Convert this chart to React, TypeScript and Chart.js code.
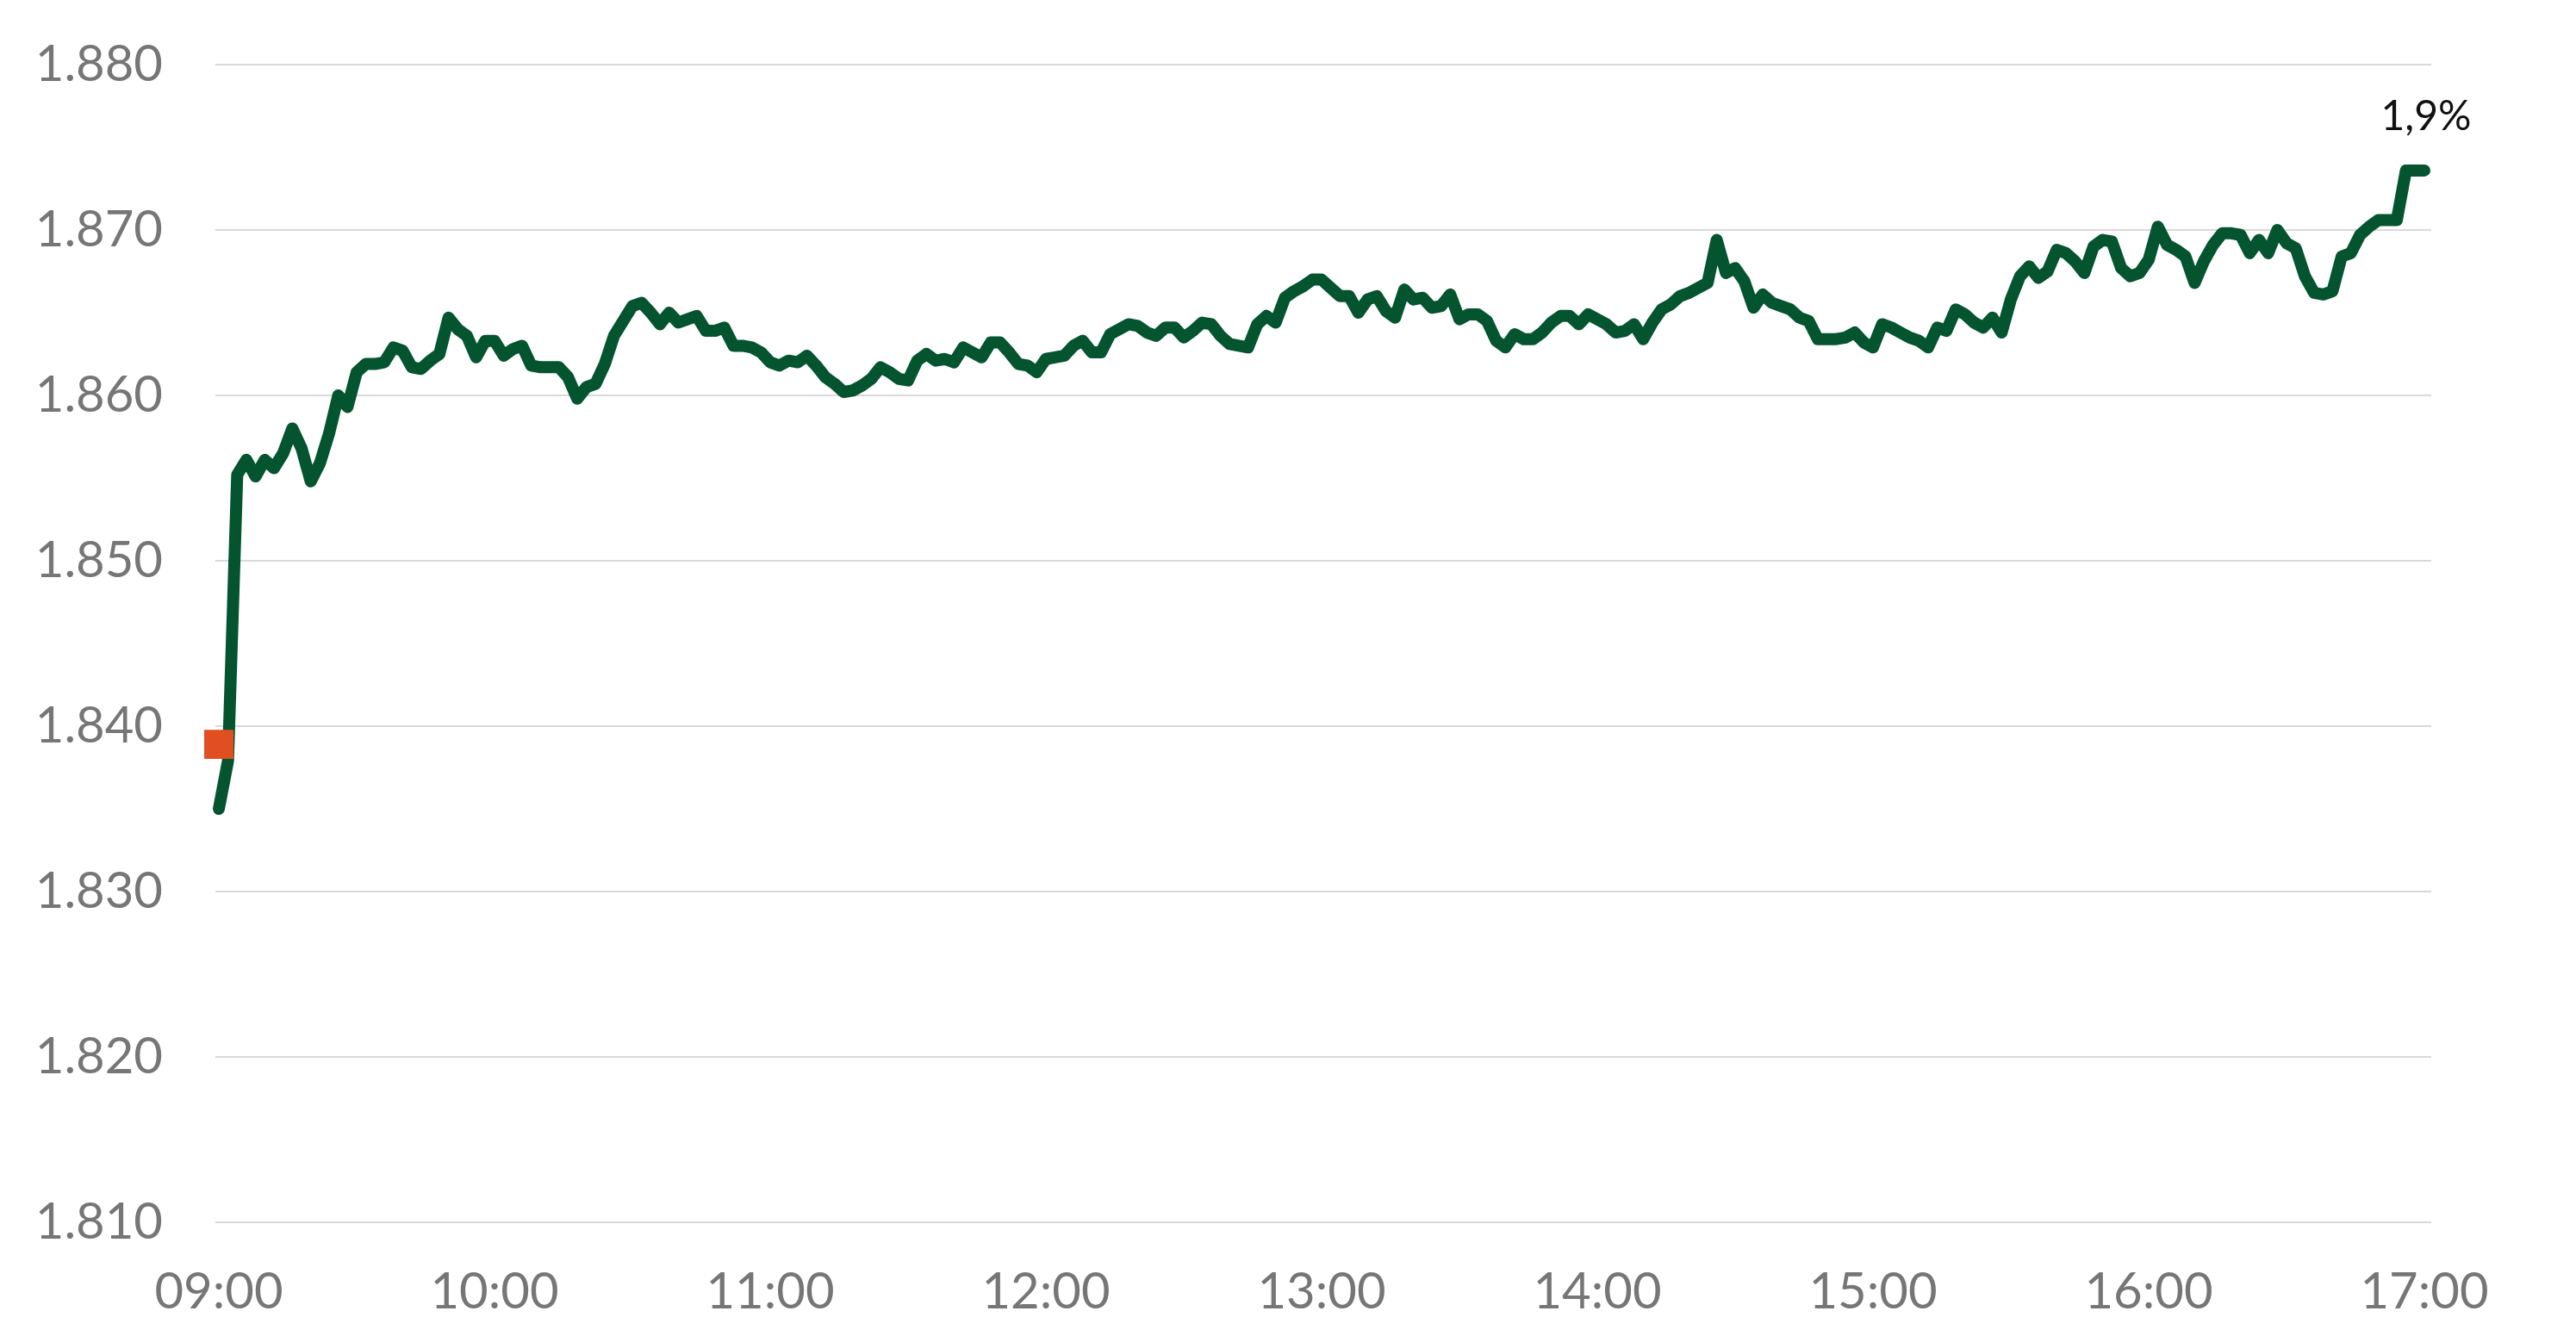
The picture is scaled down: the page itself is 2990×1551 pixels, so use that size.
import React, { useEffect, useRef } from "react";
import { Chart, registerables } from "chart.js";

Chart.register(...registerables);

// x axis: one label per hour, data every 2 minutes from 09:00
const hourLabels = ["09:00", "10:00", "11:00", "12:00", "13:00", "14:00", "15:00", "16:00", "17:00"];
const yTicks = [1810, 1820, 1830, 1840, 1850, 1860, 1870, 1880];
const stepMinutes = 2;

// previous close (orange marker)
const prevClose = 1838.9;

// intraday index level, one value per 2 minutes
const prices = [
    1835.0, 1837.9, 1855.2, 1856.1, 1855.1, 1856.1, 1855.6, 1856.5, 1858.0, 1856.8,
    1854.8, 1855.9, 1857.7, 1860.0, 1859.3, 1861.4, 1861.9, 1861.9, 1862.0, 1862.9,
    1862.7, 1861.7, 1861.6, 1862.1, 1862.5, 1864.7, 1864.0, 1863.6, 1862.3, 1863.3,
    1863.3, 1862.4, 1862.8, 1863.0, 1861.8, 1861.7, 1861.7, 1861.7, 1861.1, 1859.8,
    1860.5, 1860.7, 1861.9, 1863.6, 1864.5, 1865.4, 1865.6, 1865.0, 1864.3, 1865.0,
    1864.4, 1864.6, 1864.8, 1863.9, 1863.9, 1864.1, 1863.0, 1863.0, 1862.9, 1862.6,
    1862.0, 1861.8, 1862.1, 1862.0, 1862.4, 1861.8, 1861.1, 1860.7, 1860.2, 1860.3,
    1860.6, 1861.0, 1861.7, 1861.4, 1861.0, 1860.9, 1862.1, 1862.5, 1862.1, 1862.2,
    1862.0, 1862.9, 1862.6, 1862.3, 1863.2, 1863.2, 1862.6, 1861.9, 1861.8, 1861.4,
    1862.2, 1862.3, 1862.4, 1863.0, 1863.3, 1862.6, 1862.6, 1863.7, 1864.0, 1864.3,
    1864.2, 1863.8, 1863.6, 1864.1, 1864.1, 1863.5, 1863.9, 1864.4, 1864.3, 1863.6,
    1863.1, 1863.0, 1862.9, 1864.3, 1864.8, 1864.4, 1865.9, 1866.3, 1866.6, 1867.0,
    1867.0, 1866.5, 1866.0, 1866.0, 1865.0, 1865.8, 1866.0, 1865.1, 1864.7, 1866.4,
    1865.8, 1865.9, 1865.3, 1865.4, 1866.1, 1864.6, 1864.9, 1864.9, 1864.5, 1863.3,
    1862.9, 1863.7, 1863.4, 1863.4, 1863.8, 1864.4, 1864.8, 1864.8, 1864.3, 1864.9,
    1864.6, 1864.3, 1863.8, 1863.9, 1864.3, 1863.4, 1864.4, 1865.2, 1865.5, 1866.0,
    1866.2, 1866.5, 1866.8, 1869.4, 1867.4, 1867.7, 1866.9, 1865.3, 1866.1, 1865.6,
    1865.4, 1865.2, 1864.7, 1864.5, 1863.4, 1863.4, 1863.4, 1863.5, 1863.8, 1863.2,
    1862.9, 1864.3, 1864.1, 1863.8, 1863.5, 1863.3, 1862.9, 1864.1, 1863.9, 1865.2,
    1864.9, 1864.4, 1864.1, 1864.7, 1863.8, 1865.8, 1867.2, 1867.8, 1867.1, 1867.5,
    1868.8, 1868.6, 1868.1, 1867.4, 1869.0, 1869.4, 1869.3, 1867.7, 1867.2, 1867.4,
    1868.2, 1870.2, 1869.1, 1868.8, 1868.4, 1866.8, 1868.1, 1869.1, 1869.8, 1869.8,
    1869.7, 1868.6, 1869.4, 1868.6, 1870.0, 1869.2, 1868.9, 1867.2, 1866.2, 1866.1,
    1866.3, 1868.4, 1868.6, 1869.7, 1870.2, 1870.6, 1870.6, 1870.6, 1873.6, 1873.6,
    1873.6,
];

const FONT = 'Lato, "Noto Sans", sans-serif';
const GREEN = "#03542F";
const ORANGE = "#E04E22";
const GREY = "#767676";

// "1880" -> "1.880"
const fmtLevel = (v: number) => {
    const n = Math.round(v);
    return `${Math.floor(n / 1000)}.${String(n % 1000).padStart(3, "0")}`;
};

const changeLabel = () => {
    const last = prices[prices.length - 1];
    const pct = (last / prevClose - 1) * 100;
    return `${pct.toFixed(1).replace(".", ",")}%`;
};

// writes the day's change above the last point
const endLabelPlugin = {
    id: "endLabel",
    afterDatasetsDraw(chart: any) {
        const meta = chart.getDatasetMeta(1);
        const pt = meta.data[meta.data.length - 1];
        if (!pt) return;
        const ctx = chart.ctx;
        ctx.save();
        ctx.font = `48px ${FONT}`;
        ctx.fillStyle = "#111111";
        ctx.textAlign = "center";
        ctx.textBaseline = "alphabetic";
        ctx.fillText(changeLabel(), pt.x + 2, pt.y - 47);
        ctx.restore();
    },
};

export default function App() {
    const ref = useRef<HTMLCanvasElement | null>(null);

    useEffect(() => {
        if (!ref.current) return;

        const chart = new Chart(ref.current, {
            type: "line",
            data: {
                datasets: [
                    {
                        label: "Previous close",
                        data: [{ x: 0, y: prevClose }],
                        showLine: false,
                        pointStyle: "rect",
                        pointRadius: 24,
                        pointBackgroundColor: ORANGE,
                        pointBorderWidth: 0,
                        clip: false,
                        order: 0,
                    },
                    {
                        label: "Index",
                        data: prices.map((v, i) => ({ x: i * stepMinutes, y: v })),
                        borderColor: GREEN,
                        borderWidth: 14,
                        borderJoinStyle: "round",
                        borderCapStyle: "round",
                        pointRadius: 0,
                        tension: 0,
                        clip: false,
                        order: 1,
                    },
                ],
            },
            options: {
                animation: false,
                responsive: true,
                maintainAspectRatio: false,
                layout: { padding: { top: 67, right: 160, bottom: 4, left: 0 } },
                plugins: {
                    legend: { display: false },
                    tooltip: { enabled: false },
                },
                scales: {
                    x: {
                        type: "linear",
                        min: -0.75,
                        max: 481.5,
                        grid: { display: false, drawTicks: false },
                        border: { display: false },
                        afterBuildTicks: (s: any) => {
                            s.ticks = hourLabels.map((_, i) => ({ value: i * 60 }));
                        },
                        afterFit: (s: any) => {
                            s.height = 120;
                        },
                        ticks: {
                            autoSkip: false,
                            maxRotation: 0,
                            padding: 46,
                            color: GREY,
                            font: { family: FONT, size: 58 },
                            callback: (v: any) => hourLabels[Math.round(Number(v) / 60)] ?? "",
                        },
                    },
                    y: {
                        min: 1810,
                        max: 1880,
                        grid: { color: "#d9d9d9", lineWidth: 2, drawTicks: false },
                        border: { display: false },
                        afterBuildTicks: (s: any) => {
                            s.ticks = yTicks.map((v) => ({ value: v }));
                        },
                        afterFit: (s: any) => {
                            s.width = 242;
                            s.paddingTop = 0;
                            s.paddingBottom = 0;
                        },
                        ticks: {
                            padding: 61,
                            color: GREY,
                            font: { family: FONT, size: 58 },
                            callback: (v: any) => fmtLevel(Number(v)),
                        },
                    },
                },
            },
            plugins: [endLabelPlugin],
        });

        return () => chart.destroy();
    }, []);

    return (
        <div style={{ position: "relative", width: "100%", height: "1535px" }}>
            <canvas ref={ref} />
        </div>
    );
}
